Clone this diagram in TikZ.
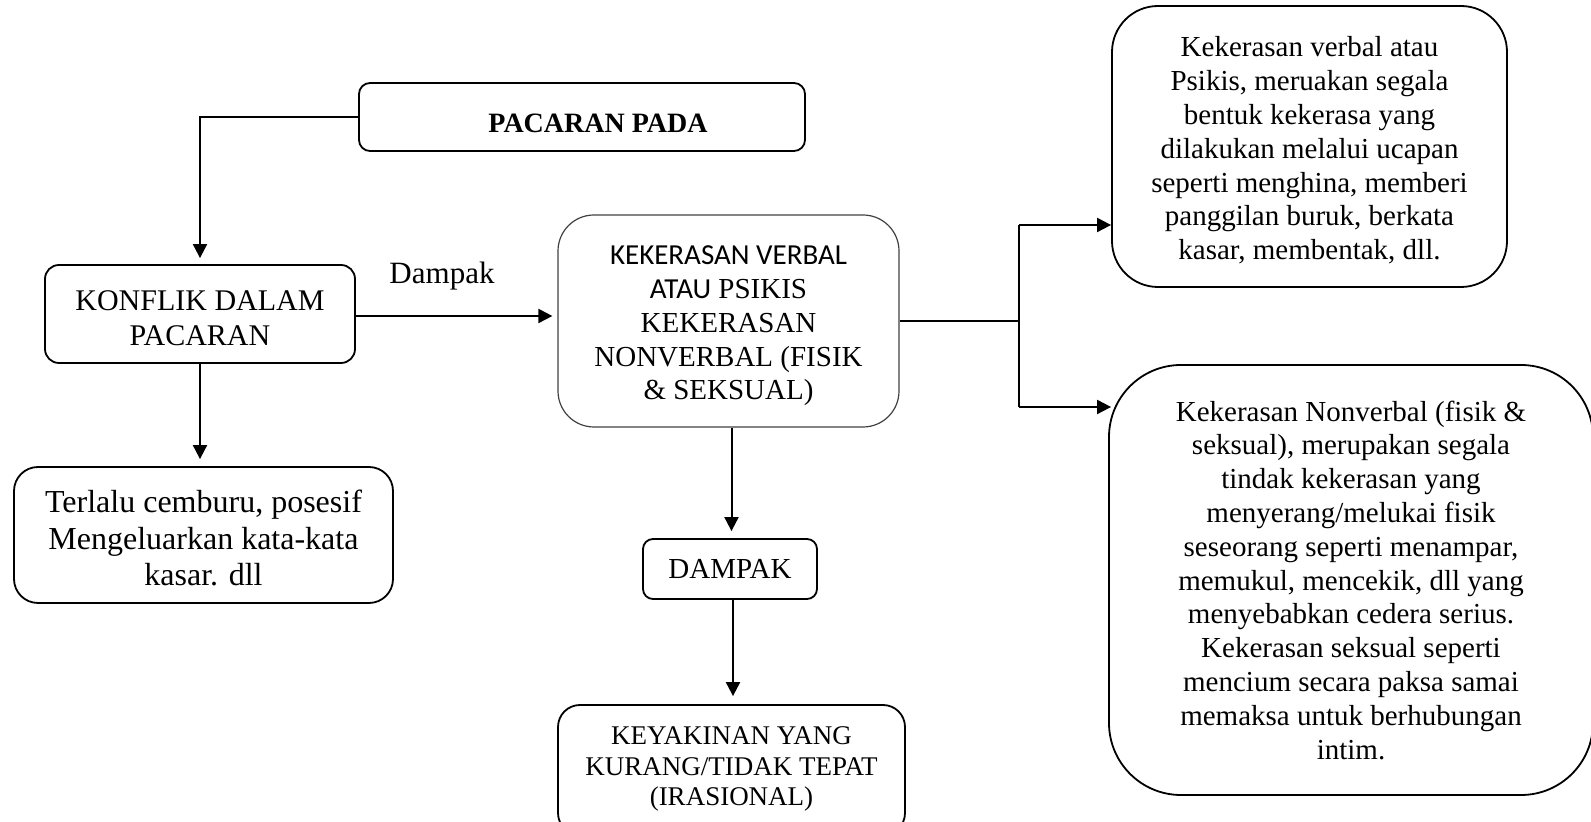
\documentclass[tikz,border=0pt]{standalone}
\usepackage{fontspec}
\setmainfont{Liberation Serif}
\newfontfamily\calib{Carlito}
\usetikzlibrary{arrows.meta}
\begin{document}
\begin{tikzpicture}[x=0.5pt,y=-0.5pt,
  box/.style={draw, line width=0.9pt, rounded corners=#1, inner sep=0pt},
  box/.default=8pt,
  txt/.style={align=center, inner sep=0pt},
  conn/.style={line width=1pt, -{Triangle[length=7pt,width=7pt]}},
  plain/.style={line width=1pt},
  fs/.style={font=\fontsize{14.5}{16.9}\selectfont}
]
\useasboundingbox (0,0) rectangle (1591,822);

% boxes
\node[box=5.5pt, minimum width=223pt, minimum height=34pt] (pac) at (582,117) {};
\node[box=7pt, minimum width=155pt, minimum height=49pt] (konf) at (200,314) {};
\node[box=12pt, minimum width=189.5pt, minimum height=68pt] (terl) at (203.5,535) {};
\node[box=18pt, draw=black!75, line width=0.6pt, minimum width=170.5pt, minimum height=106pt] (kek) at (728.5,321) {};
\node[box=5pt, minimum width=87pt, minimum height=30pt] (dam) at (730,569) {};
\node[box=11pt, minimum width=173.5pt, minimum height=65pt] (key) at (731.5,770) {};
\node[box=23pt, minimum width=197.5pt, minimum height=140.5pt] (rt) at (1309.5,146.5) {};
\node[box=36pt, minimum width=242pt, minimum height=215pt] (rb) at (1351,580) {};

% texts
\node[txt, font=\bfseries\fontsize{14}{16}\selectfont] (pac-t) at ([xshift=8pt,yshift=-3pt]pac.center) {PACARAN PADA};
\node[txt, font=\fontsize{15}{17.5}\selectfont] (konf-t) at ([yshift=-2pt]konf.center) {KONFLIK DALAM\\PACARAN};
\node[txt, font=\fontsize{16}{18.3}\selectfont] (terl-t) at ([yshift=-1.5pt]terl.center)
      {Terlalu cemburu, posesif\\Mengeluarkan kata-kata\\kasar. dll};
\node[txt, font=\fontsize{14.5}{16.9}\selectfont] (kek-t) at ([yshift=-2.5pt]kek.center)
      {{\calib KEKERASAN VERBAL}\\{\calib ATAU} PSIKIS\\KEKERASAN\\NONVERBAL (FISIK\\\& SEKSUAL)};
\node[txt, font=\fontsize{14.5}{17}\selectfont] (dam-t) at (dam.center) {DAMPAK};
\node[txt, font=\fontsize{13.5}{15.3}\selectfont] (key-t) at ([yshift=0.5pt]key.center)
      {KEYAKINAN YANG\\KURANG/TIDAK TEPAT\\(IRASIONAL)};
\node[txt, fs] (rt-t) at ([yshift=-2pt]rt.center)
      {Kekerasan verbal atau\\Psikis, meruakan segala\\bentuk kekerasa yang\\dilakukan melalui ucapan\\seperti menghina, memberi\\panggilan buruk, berkata\\kasar, membentak, dll.};
\node[txt, fs] (rb-t) at (rb.center)
      {Kekerasan Nonverbal (fisik \&\\seksual), merupakan segala\\tindak kekerasan yang\\menyerang/melukai fisik\\seseorang seperti menampar,\\memukul, mencekik, dll yang\\menyebabkan cedera serius.\\Kekerasan seksual seperti\\mencium secara paksa samai\\memaksa untuk berhubungan\\intim.};
\node[font=\fontsize{15.5}{18}\selectfont] (lab) at (442,276) {Dampak};

% connectors
\draw[conn, shorten >=3pt] (pac.west) -| (konf.north);
\draw[conn, shorten >=2.5pt] ([yshift=-1pt]konf.east) -- ([yshift=-1pt]konf.east -| kek.west);
\draw[conn, shorten >=3.5pt] (konf.south) -- (konf.south |- terl.north);
\draw[conn, shorten >=3.5pt] ([xshift=1.5pt]kek.south) -- ([xshift=1.5pt]kek.south |- dam.north);
\draw[conn, shorten >=4pt] ([xshift=1.5pt]dam.south) -- ([xshift=1.5pt]dam.south |- key.north);

\coordinate (br) at (1019,321);
\coordinate (bt) at (1019,225);
\coordinate (bb) at (1019,407);
\draw[plain] (kek.east) -- (br);
\draw[plain] (bt) -- (bb);
\draw[conn] (bt) -- (bt -| rt.west);
\draw[conn] (bb) -- (bb -| rt.west);
\end{tikzpicture}
\end{document}
